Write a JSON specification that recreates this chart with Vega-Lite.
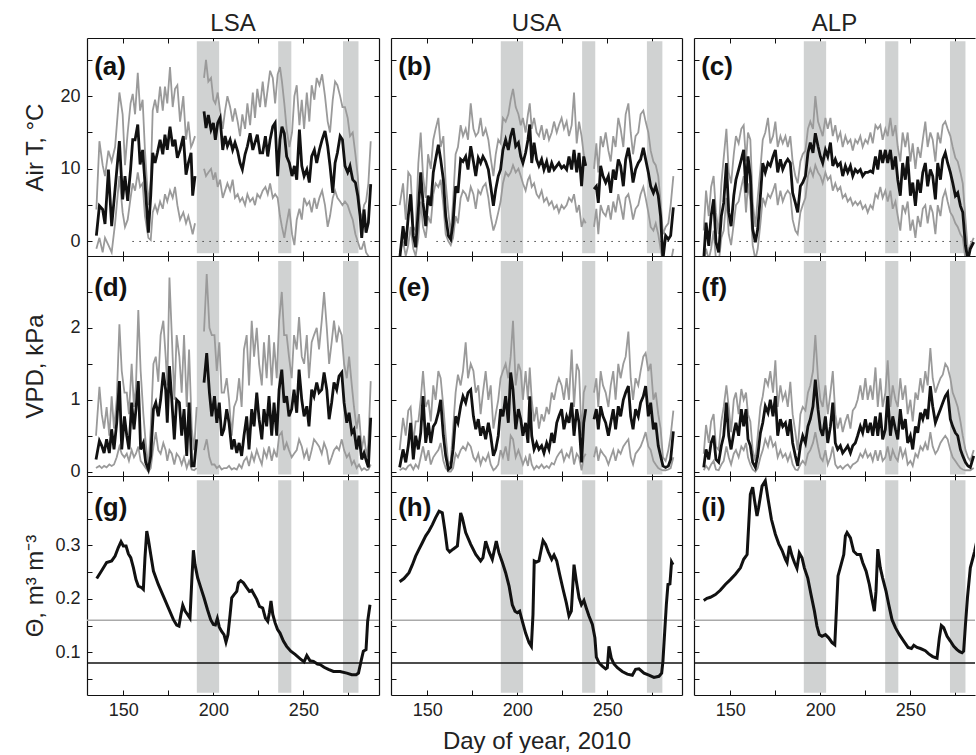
{
"$schema":"https://vega.github.io/schema/vega-lite/v6.json",
"background":"white",
"padding":{"left":23,"top":11,"right":0,"bottom":0},
"autosize":{"type":"pad"},
"bounds":"flush",
"align":"each",
"columns":3,
"spacing":{"row":0,"column":12},
"datasets":{
"bars":[{"s":190.8,"e":203.2},{"s":236,"e":243.3},{"s":272,"e":280.6}],
"Ta":[{"d":135,"m":0.8,"h":4.4,"l":-1},{"d":136.7,"m":4.9,"h":13.8,"l":0.5},{"d":138.5,"m":4.4,"h":10.5,"l":-1.5},{"d":139.8,"m":2.4,"h":9,"l":0.5},{"d":141.7,"m":9.9,"h":12.5,"l":-0.5},{"d":143.5,"m":2.1,"h":11,"l":-1.5},{"d":145.4,"m":7.2,"h":13,"l":2.5},{"d":147.8,"m":13.8,"h":20.5,"l":9},{"d":149.6,"m":5.8,"h":17.5,"l":4},{"d":150.9,"m":9,"h":10.5,"l":2},{"d":152.4,"m":5.6,"h":15,"l":3},{"d":154,"m":9.9,"h":19,"l":6},{"d":155.2,"m":14,"h":20.3,"l":8},{"d":156.5,"m":14,"h":17.5,"l":7},{"d":158,"m":16.1,"h":23.2,"l":9.5},{"d":159.3,"m":10.6,"h":18,"l":7.5},{"d":160.7,"m":12.6,"h":19.5,"l":8},{"d":162,"m":8.1,"h":12.5,"l":3.5},{"d":163.9,"m":1.2,"h":5,"l":0.5},{"d":165.2,"m":6.3,"h":8.5,"l":0.2},{"d":166.3,"m":12.2,"h":18,"l":4},{"d":167.6,"m":10.8,"h":19.5,"l":5},{"d":168.9,"m":12.2,"h":17.7,"l":4},{"d":170.4,"m":14,"h":21.3,"l":5.5},{"d":171.9,"m":12,"h":18,"l":4.5},{"d":173.1,"m":14.7,"h":21.3,"l":6.5},{"d":174.4,"m":12.6,"h":19,"l":5.5},{"d":175.9,"m":15.8,"h":24,"l":7},{"d":177.4,"m":13.1,"h":18.5,"l":6},{"d":178.7,"m":14,"h":21,"l":7.5},{"d":180,"m":11.5,"h":21.5,"l":5},{"d":181.5,"m":12.6,"h":16.5,"l":3},{"d":183.3,"m":14.5,"h":20,"l":4},{"d":184.8,"m":9.2,"h":14,"l":2.5},{"d":186.1,"m":10.8,"h":16.5,"l":3.5},{"d":187.6,"m":12.2,"h":13,"l":2},{"d":188.5,"m":6.3,"h":13.5,"l":1},{"d":189.8,"m":9,"h":14.5,"l":2.5},{"d":192,"m":null,"h":null,"l":null},{"d":194.8,"m":17.9,"h":22.5,"l":10},{"d":195.9,"m":15.6,"h":25,"l":9},{"d":197.2,"m":17.4,"h":22,"l":9.5},{"d":198.7,"m":15.4,"h":22.5,"l":10},{"d":200,"m":16.3,"h":19.5,"l":8.5},{"d":201.1,"m":14,"h":19,"l":9.5},{"d":202.4,"m":16.3,"h":20.5,"l":7.5},{"d":203.7,"m":17,"h":18,"l":8.5},{"d":205.2,"m":12.6,"h":15.5,"l":6},{"d":206.5,"m":14.5,"h":18,"l":7},{"d":207.8,"m":13.1,"h":20,"l":8},{"d":209.3,"m":14,"h":18.5,"l":7},{"d":210.7,"m":12.6,"h":16.5,"l":8.5},{"d":212,"m":13.6,"h":18.3,"l":6},{"d":213.5,"m":12.4,"h":16.5,"l":6.5},{"d":214.8,"m":10.8,"h":14.5,"l":5.5},{"d":216.1,"m":9.9,"h":17.5,"l":6},{"d":217.6,"m":12,"h":15.5,"l":5},{"d":218.9,"m":13.1,"h":19,"l":6.5},{"d":220.4,"m":14.9,"h":16,"l":5.5},{"d":221.9,"m":12.6,"h":20.5,"l":6},{"d":223.1,"m":13.6,"h":17,"l":5},{"d":224.4,"m":14.7,"h":21,"l":6.5},{"d":225.9,"m":12.2,"h":18.5,"l":6},{"d":227.4,"m":12.2,"h":22,"l":7},{"d":228.9,"m":14.5,"h":18.5,"l":7.5},{"d":230.2,"m":11.7,"h":21,"l":6.5},{"d":231.5,"m":14,"h":23.5,"l":8},{"d":233,"m":15.8,"h":22.5,"l":6},{"d":234.3,"m":16.3,"h":19,"l":6.5},{"d":235.7,"m":9,"h":23,"l":6},{"d":237,"m":14,"h":24,"l":3.5},{"d":238.1,"m":15.8,"h":22,"l":2},{"d":239.4,"m":14.9,"h":19,"l":0.5},{"d":240.7,"m":11.7,"h":15.5,"l":2.5},{"d":242.2,"m":10.8,"h":13,"l":4.5},{"d":243.7,"m":9,"h":15,"l":1},{"d":245,"m":10.4,"h":20,"l":-0.5},{"d":246.3,"m":8.5,"h":21.5,"l":3},{"d":247.8,"m":15.4,"h":16,"l":4.5},{"d":249.1,"m":10.4,"h":19.5,"l":3},{"d":250.4,"m":9,"h":15.5,"l":6},{"d":251.9,"m":9.9,"h":20.5,"l":5},{"d":253.3,"m":8.1,"h":16.5,"l":5.5},{"d":254.6,"m":11.7,"h":21.5,"l":4},{"d":256.1,"m":12.6,"h":19.5,"l":6},{"d":257.4,"m":10.8,"h":22.5,"l":4.5},{"d":258.9,"m":12.6,"h":21.5,"l":6},{"d":260.4,"m":14,"h":23,"l":7},{"d":262,"m":15.2,"h":20,"l":5},{"d":263.5,"m":13.1,"h":16.5,"l":2},{"d":264.8,"m":10.4,"h":15,"l":3.5},{"d":266.3,"m":6.7,"h":19.5,"l":6},{"d":267.6,"m":10.8,"h":22,"l":7},{"d":268.9,"m":12.2,"h":21.5,"l":6},{"d":270.4,"m":14.5,"h":20,"l":5.5},{"d":271.7,"m":14,"h":18.5,"l":5},{"d":273.1,"m":10.4,"h":18.5,"l":5.5},{"d":274.6,"m":9.5,"h":17,"l":5},{"d":275.9,"m":10.4,"h":14.5,"l":4},{"d":277.4,"m":8.5,"h":15,"l":3},{"d":278.9,"m":8.1,"h":12,"l":1},{"d":280.2,"m":6.3,"h":9,"l":0},{"d":281.5,"m":3.5,"h":4,"l":-1},{"d":282.4,"m":0.5,"h":3,"l":-1},{"d":283.7,"m":4.4,"h":5,"l":0},{"d":284.8,"m":1.2,"h":5.5,"l":-1.5},{"d":286.1,"m":2.6,"h":8,"l":-2},{"d":287.4,"m":7.9,"h":13.8,"l":-2.5}],
"Tb":[{"d":134.6,"m":-2.5,"h":5,"l":-1.5},{"d":136.5,"m":2.1,"h":8,"l":0},{"d":138,"m":-0.6,"h":3,"l":-2},{"d":139.4,"m":3.5,"h":9.5,"l":-0.5},{"d":140.7,"m":6.5,"h":9,"l":2},{"d":142.2,"m":0.8,"h":2,"l":-1},{"d":143.5,"m":-0.8,"h":1.5,"l":-2},{"d":145,"m":4.4,"h":10.8,"l":0.5},{"d":146.3,"m":9.5,"h":15,"l":5.5},{"d":147.6,"m":5.3,"h":9,"l":2},{"d":149.1,"m":2.1,"h":6,"l":0.5},{"d":150.4,"m":6.3,"h":12,"l":3.5},{"d":151.9,"m":4.9,"h":10,"l":2.5},{"d":153.3,"m":9.5,"h":14,"l":6.5},{"d":154.6,"m":11.3,"h":15.5,"l":8},{"d":156.1,"m":13.3,"h":17,"l":7.5},{"d":157.4,"m":11.3,"h":13,"l":8.5},{"d":158.9,"m":8.5,"h":14.5,"l":5},{"d":160.2,"m":3.5,"h":8,"l":1},{"d":161.7,"m":0.8,"h":4,"l":0},{"d":163,"m":0.3,"h":1,"l":-0.5},{"d":164.3,"m":2.6,"h":5.5,"l":0.5},{"d":165.7,"m":7.6,"h":12,"l":3.5},{"d":167,"m":6.7,"h":13,"l":2.5},{"d":168.5,"m":11.3,"h":16,"l":6},{"d":169.8,"m":11,"h":14.5,"l":7},{"d":171.3,"m":11.7,"h":15.5,"l":6.5},{"d":172.6,"m":9.9,"h":14,"l":5.5},{"d":174.1,"m":13.1,"h":19,"l":7.5},{"d":175.6,"m":11,"h":15.5,"l":6.5},{"d":176.9,"m":9,"h":14.5,"l":4.5},{"d":178.3,"m":11.5,"h":15,"l":7},{"d":179.6,"m":10.8,"h":17,"l":6.5},{"d":180.9,"m":11.7,"h":14.5,"l":7.5},{"d":182.4,"m":11,"h":15.5,"l":8},{"d":183.9,"m":9.9,"h":14,"l":6},{"d":185.2,"m":7.6,"h":11.5,"l":3.5},{"d":186.7,"m":4.9,"h":9,"l":1.5},{"d":188,"m":7.2,"h":12,"l":2.5},{"d":189.4,"m":9,"h":14,"l":4},{"d":190.7,"m":9.9,"h":13.5,"l":5.5},{"d":192,"m":12.6,"h":17,"l":8},{"d":193.5,"m":14,"h":16.5,"l":9.5},{"d":195,"m":12.6,"h":17.5,"l":9},{"d":196.3,"m":14.5,"h":19.5,"l":9.5},{"d":197.6,"m":15.6,"h":21,"l":10.5},{"d":199.1,"m":13.1,"h":18.5,"l":9.5},{"d":200.6,"m":13.6,"h":17.5,"l":10},{"d":201.9,"m":11.7,"h":16,"l":9},{"d":203.1,"m":10.8,"h":17,"l":8},{"d":204.6,"m":12.2,"h":15,"l":7},{"d":205.9,"m":14,"h":17.5,"l":8.5},{"d":206.9,"m":16.1,"h":19,"l":9},{"d":208,"m":10.8,"h":15.5,"l":7.5},{"d":209.3,"m":13.6,"h":17,"l":8},{"d":210.7,"m":11.3,"h":15,"l":6.5},{"d":212,"m":10.4,"h":14.5,"l":6},{"d":213.5,"m":11.3,"h":16,"l":7},{"d":214.8,"m":9.9,"h":14,"l":5.5},{"d":216.3,"m":11,"h":15.5,"l":6},{"d":217.6,"m":9.5,"h":14,"l":5},{"d":219.1,"m":10.8,"h":15,"l":5.5},{"d":220.4,"m":9.9,"h":16.5,"l":4.5},{"d":221.9,"m":10.4,"h":15,"l":5},{"d":223.1,"m":10.8,"h":16,"l":4},{"d":224.6,"m":10.1,"h":17,"l":5},{"d":225.9,"m":10.4,"h":15.5,"l":4.5},{"d":227.4,"m":9.9,"h":16.5,"l":5},{"d":228.7,"m":11.7,"h":14.5,"l":6},{"d":230.2,"m":9.9,"h":16,"l":5.5},{"d":231.5,"m":12.6,"h":20.5,"l":6.5},{"d":233,"m":9.5,"h":13.5,"l":4},{"d":234.3,"m":12.2,"h":16.5,"l":5},{"d":235.7,"m":7.6,"h":14.5,"l":2},{"d":236.9,"m":11.7,"h":12,"l":3},{"d":238,"m":10.4,"h":10.5,"l":2.5},{"d":240,"m":null,"h":null,"l":null},{"d":242.6,"m":7.2,"h":10,"l":2},{"d":243.9,"m":7.6,"h":13.5,"l":4.5},{"d":245,"m":5.3,"h":9.5,"l":1},{"d":246.3,"m":10.4,"h":14.5,"l":5},{"d":247.6,"m":9,"h":13,"l":4},{"d":249.1,"m":8.1,"h":15,"l":3.5},{"d":250.6,"m":9,"h":12.5,"l":5},{"d":251.9,"m":6.7,"h":11,"l":3},{"d":253.3,"m":9.9,"h":14.5,"l":5.5},{"d":254.6,"m":8.5,"h":13,"l":4},{"d":256.1,"m":11.3,"h":17,"l":6.5},{"d":257.4,"m":10.4,"h":15.5,"l":5},{"d":258.9,"m":7.6,"h":13,"l":3},{"d":260.2,"m":11.3,"h":17.5,"l":6},{"d":261.7,"m":12.9,"h":19,"l":6.5},{"d":263,"m":10.8,"h":15,"l":5},{"d":264.3,"m":8.1,"h":12,"l":3},{"d":265.7,"m":9.9,"h":14.5,"l":4.5},{"d":267.2,"m":10.8,"h":15,"l":5},{"d":268.5,"m":11.3,"h":17.5,"l":6.5},{"d":270,"m":12.9,"h":18,"l":7.5},{"d":271.3,"m":11.3,"h":16.5,"l":6},{"d":272.8,"m":9.5,"h":15,"l":4},{"d":274.1,"m":7.6,"h":12.5,"l":2},{"d":275.6,"m":6.7,"h":11,"l":1.5},{"d":276.9,"m":7.6,"h":10.5,"l":2.5},{"d":278.3,"m":6.3,"h":9,"l":1},{"d":279.6,"m":3.5,"h":5.5,"l":-1},{"d":280.9,"m":-2.5,"h":1,"l":-3},{"d":282.4,"m":0.8,"h":2,"l":-3},{"d":283.9,"m":0.3,"h":2.5,"l":-3},{"d":285.2,"m":0.8,"h":5,"l":-3},{"d":286.7,"m":4.7,"h":9,"l":-1}],
"Tc":[{"d":135.2,"m":-2.5,"h":1.5,"l":-3},{"d":136.5,"m":2.6,"h":7,"l":-1},{"d":138,"m":-0.6,"h":3.5,"l":-2.5},{"d":139.3,"m":3.5,"h":7.5,"l":-1},{"d":140.7,"m":5.8,"h":9,"l":1.5},{"d":142,"m":-0.1,"h":4,"l":-2.5},{"d":143.5,"m":-1.5,"h":1,"l":-3},{"d":145,"m":3.5,"h":8,"l":0.5},{"d":146.3,"m":5.3,"h":11.5,"l":1.5},{"d":147.8,"m":10.8,"h":15.5,"l":6},{"d":149.1,"m":4,"h":9.5,"l":1},{"d":150.4,"m":2.1,"h":8,"l":-0.5},{"d":151.9,"m":6.3,"h":12,"l":2.5},{"d":153.1,"m":8.5,"h":14.5,"l":5},{"d":154.6,"m":9.9,"h":13.5,"l":5.5},{"d":156.1,"m":11.3,"h":15.5,"l":7.5},{"d":157.4,"m":12.6,"h":16,"l":9},{"d":158.7,"m":6.7,"h":11,"l":4},{"d":159.8,"m":11.7,"h":15,"l":8},{"d":161.1,"m":9,"h":14,"l":5.5},{"d":162.4,"m":1.7,"h":5.5,"l":-0.5},{"d":163.9,"m":-0.1,"h":2,"l":-2.5},{"d":165.2,"m":1.7,"h":6,"l":-1},{"d":166.7,"m":6.3,"h":10,"l":2.5},{"d":168,"m":10.8,"h":14,"l":6},{"d":169.4,"m":9.5,"h":15,"l":5},{"d":170.9,"m":10.8,"h":17,"l":6.5},{"d":172.2,"m":10.4,"h":13.5,"l":6},{"d":173.7,"m":11.7,"h":14.5,"l":7},{"d":175,"m":12.6,"h":16.5,"l":8},{"d":176.3,"m":9.5,"h":13,"l":5},{"d":177.8,"m":11.3,"h":14.5,"l":7},{"d":179.1,"m":9.9,"h":13.5,"l":5.5},{"d":180.6,"m":10.8,"h":14.5,"l":6.5},{"d":181.9,"m":11.3,"h":13,"l":7},{"d":183.3,"m":10.8,"h":14.5,"l":6.5},{"d":184.6,"m":6.7,"h":11,"l":3},{"d":186.1,"m":5.3,"h":9,"l":1.5},{"d":187.4,"m":4,"h":8,"l":1},{"d":188.9,"m":7.6,"h":11,"l":4},{"d":190.2,"m":8.1,"h":12,"l":5},{"d":191.7,"m":9,"h":12.5,"l":6},{"d":193.1,"m":12.2,"h":15.5,"l":9},{"d":194.4,"m":13.6,"h":16.5,"l":10},{"d":195.9,"m":12.2,"h":15.5,"l":9},{"d":197.2,"m":14.9,"h":20,"l":10.5},{"d":198.7,"m":13.1,"h":16.5,"l":9.5},{"d":200,"m":11.7,"h":15.5,"l":9},{"d":201.3,"m":10.8,"h":14.5,"l":8},{"d":202.8,"m":12.6,"h":17,"l":9.5},{"d":204.1,"m":11.7,"h":15.5,"l":8.5},{"d":205.6,"m":13.6,"h":17,"l":9},{"d":206.9,"m":10.4,"h":14.5,"l":7},{"d":208.3,"m":11.3,"h":16,"l":8},{"d":209.6,"m":10.4,"h":14,"l":7},{"d":211.1,"m":10.8,"h":15,"l":7.5},{"d":212.4,"m":9,"h":13,"l":6},{"d":213.9,"m":10.4,"h":14.5,"l":6.5},{"d":215.2,"m":9.5,"h":13.5,"l":5.5},{"d":216.7,"m":10.4,"h":14,"l":6},{"d":218,"m":9,"h":12.5,"l":5},{"d":219.4,"m":9.9,"h":14,"l":5.5},{"d":220.7,"m":9.5,"h":13.5,"l":5},{"d":222.2,"m":9.9,"h":14.5,"l":5.5},{"d":223.5,"m":9,"h":13,"l":4.5},{"d":225,"m":9.5,"h":14,"l":5},{"d":226.3,"m":9.5,"h":13.5,"l":4},{"d":227.8,"m":9.7,"h":15,"l":5},{"d":229.1,"m":9.5,"h":13.5,"l":4.5},{"d":230.6,"m":11.7,"h":16,"l":6.5},{"d":231.9,"m":9.9,"h":15.5,"l":6},{"d":233.3,"m":12.6,"h":16,"l":7.5},{"d":234.6,"m":10.8,"h":14,"l":6},{"d":236.1,"m":12.6,"h":15.5,"l":7},{"d":237.4,"m":10.8,"h":14.5,"l":5.5},{"d":238.9,"m":12.6,"h":17,"l":7},{"d":240.2,"m":9.9,"h":14.5,"l":4.5},{"d":241.7,"m":11.7,"h":16,"l":5.5},{"d":243,"m":8.5,"h":13,"l":3.5},{"d":244.4,"m":6.3,"h":11,"l":1.5},{"d":245.7,"m":10.8,"h":15,"l":5},{"d":247.2,"m":8.5,"h":13,"l":4},{"d":248.5,"m":11.7,"h":15,"l":5.5},{"d":250,"m":6.3,"h":11,"l":1.5},{"d":251.3,"m":8.1,"h":13.5,"l":3},{"d":252.8,"m":4.9,"h":10,"l":0.5},{"d":254.1,"m":8.5,"h":13,"l":3.5},{"d":255.6,"m":6.7,"h":11.5,"l":2},{"d":256.9,"m":9.5,"h":14,"l":4.5},{"d":258.3,"m":10.8,"h":16.5,"l":5},{"d":259.6,"m":7.6,"h":13,"l":2.5},{"d":261.1,"m":9.9,"h":15,"l":5},{"d":262.4,"m":9,"h":14,"l":4},{"d":263.9,"m":5.8,"h":11,"l":1},{"d":265.2,"m":10.8,"h":15,"l":5},{"d":266.7,"m":8.5,"h":13.5,"l":3.5},{"d":268,"m":11.3,"h":16,"l":6},{"d":269.4,"m":12.2,"h":16.5,"l":7},{"d":270.7,"m":10.8,"h":15.5,"l":5.5},{"d":272.2,"m":9.5,"h":14.5,"l":4},{"d":273.5,"m":8.1,"h":13,"l":3.5},{"d":275,"m":6.3,"h":11.5,"l":2.5},{"d":276.3,"m":6.7,"h":11,"l":2},{"d":277.8,"m":4.9,"h":9.5,"l":1},{"d":279.1,"m":4,"h":8,"l":0.5},{"d":280.6,"m":-0.6,"h":3,"l":-2.5},{"d":282,"m":-2.5,"h":-1.5,"l":-3},{"d":283.3,"m":-1,"h":-0.5,"l":-3},{"d":285.2,"m":-0.1,"h":0.5,"l":-2.5}],
"Va":[{"d":134.8,"m":0.17,"h":0.5,"l":0.05},{"d":136.7,"m":0.43,"h":1.18,"l":0.08},{"d":138,"m":0.36,"h":0.8,"l":0.05},{"d":139.3,"m":0.26,"h":0.6,"l":0.08},{"d":140.7,"m":0.45,"h":0.9,"l":0.06},{"d":142.2,"m":0.26,"h":0.5,"l":0.1},{"d":143.5,"m":0.59,"h":1.05,"l":0.08},{"d":144.8,"m":0.31,"h":0.6,"l":0.1},{"d":146.3,"m":0.68,"h":1,"l":0.2},{"d":147.8,"m":1.26,"h":2.05,"l":0.35},{"d":149.1,"m":0.31,"h":1.4,"l":0.25},{"d":150.6,"m":0.77,"h":1.1,"l":0.2},{"d":151.9,"m":0.5,"h":1.1,"l":0.25},{"d":153.1,"m":0.31,"h":0.8,"l":0.15},{"d":154.6,"m":0.96,"h":1.5,"l":0.3},{"d":155.9,"m":0.59,"h":0.9,"l":0.2},{"d":157,"m":0.87,"h":1.2,"l":0.25},{"d":158.3,"m":1.26,"h":2.25,"l":0.35},{"d":159.6,"m":0.31,"h":1.4,"l":0.15},{"d":161.1,"m":0.4,"h":0.8,"l":0.1},{"d":162.4,"m":0.13,"h":0.4,"l":0.05},{"d":163.9,"m":0.03,"h":0.05,"l":0},{"d":165.2,"m":0.22,"h":0.6,"l":0.05},{"d":166.7,"m":0.87,"h":1.5,"l":0.35},{"d":168,"m":0.96,"h":1.6,"l":0.55},{"d":169.4,"m":0.77,"h":1.25,"l":0.3},{"d":170.7,"m":1,"h":1.9,"l":0.25},{"d":172.2,"m":1.38,"h":2.1,"l":0.4},{"d":173.5,"m":1.14,"h":1.6,"l":0.3},{"d":174.4,"m":0.68,"h":1.2,"l":0.15},{"d":175.6,"m":1.47,"h":2.7,"l":0.3},{"d":176.9,"m":1,"h":1.9,"l":0.25},{"d":178.3,"m":0.45,"h":1,"l":0.1},{"d":179.6,"m":1,"h":1.9,"l":0.25},{"d":181.1,"m":0.96,"h":1.6,"l":0.2},{"d":182.4,"m":0.5,"h":1.1,"l":0.1},{"d":183.7,"m":0.87,"h":1.9,"l":0.2},{"d":185.2,"m":0.22,"h":0.9,"l":0.05},{"d":186.5,"m":0.96,"h":1.7,"l":0.15},{"d":188,"m":0.08,"h":0.6,"l":0.03},{"d":189.3,"m":0.08,"h":0.3,"l":0.02},{"d":190.7,"m":0.45,"h":0.9,"l":0.05},{"d":192,"m":null,"h":null,"l":null},{"d":194.8,"m":1.24,"h":1.95,"l":0.3},{"d":196.3,"m":1.65,"h":2.75,"l":0.45},{"d":197.8,"m":1.1,"h":2,"l":0.2},{"d":199.1,"m":0.77,"h":1.9,"l":0.1},{"d":200.6,"m":1.05,"h":1.9,"l":0.1},{"d":201.9,"m":0.68,"h":1.4,"l":0.05},{"d":203.3,"m":0.96,"h":1.8,"l":0.08},{"d":204.6,"m":0.5,"h":1.1,"l":0.03},{"d":205.9,"m":0.59,"h":1.1,"l":0.05},{"d":207.4,"m":0.87,"h":1.3,"l":0.05},{"d":208.7,"m":0.68,"h":1,"l":0.08},{"d":210.2,"m":0.31,"h":0.5,"l":0.03},{"d":211.5,"m":0.45,"h":0.9,"l":0.05},{"d":213,"m":0.26,"h":1,"l":0.03},{"d":214.3,"m":0.4,"h":1.3,"l":0.1},{"d":215.7,"m":0.22,"h":0.9,"l":0.05},{"d":217,"m":0.5,"h":1.7,"l":0.15},{"d":218.5,"m":0.77,"h":1.9,"l":0.2},{"d":219.8,"m":0.31,"h":1.2,"l":0.08},{"d":221.3,"m":0.87,"h":2.1,"l":0.25},{"d":222.6,"m":0.63,"h":1.6,"l":0.15},{"d":224.1,"m":1.1,"h":2,"l":0.3},{"d":225.4,"m":0.73,"h":1.5,"l":0.2},{"d":226.9,"m":0.45,"h":1.2,"l":0.1},{"d":228.1,"m":0.87,"h":1.8,"l":0.3},{"d":229.6,"m":0.63,"h":1.3,"l":0.2},{"d":230.9,"m":1.05,"h":1.9,"l":0.35},{"d":232.4,"m":0.5,"h":1.2,"l":0.15},{"d":233.7,"m":0.96,"h":1.8,"l":0.3},{"d":235.2,"m":0.5,"h":1.3,"l":0.2},{"d":236.5,"m":1.14,"h":2.1,"l":0.5},{"d":238,"m":1.42,"h":2.5,"l":0.55},{"d":239.3,"m":0.96,"h":1.9,"l":0.3},{"d":240.7,"m":1.05,"h":1.9,"l":0.4},{"d":242,"m":0.77,"h":1.6,"l":0.3},{"d":243.5,"m":0.87,"h":1.3,"l":0.2},{"d":244.8,"m":1.14,"h":1.9,"l":0.25},{"d":246.3,"m":0.82,"h":1.7,"l":0.3},{"d":247.6,"m":1.42,"h":2.15,"l":0.45},{"d":249.1,"m":1,"h":1.6,"l":0.35},{"d":250.4,"m":0.77,"h":1.5,"l":0.2},{"d":251.9,"m":0.91,"h":1.9,"l":0.3},{"d":253.1,"m":0.63,"h":1.3,"l":0.15},{"d":254.6,"m":1.14,"h":1.8,"l":0.3},{"d":255.9,"m":1.05,"h":1.9,"l":0.45},{"d":257.4,"m":1.24,"h":2,"l":0.4},{"d":258.7,"m":1.1,"h":1.7,"l":0.35},{"d":260.2,"m":1.14,"h":2.1,"l":0.25},{"d":261.5,"m":1.38,"h":2.5,"l":0.4},{"d":263,"m":1.14,"h":2,"l":0.3},{"d":264.3,"m":0.73,"h":1.5,"l":0.1},{"d":265.7,"m":0.96,"h":1.8,"l":0.2},{"d":267,"m":1.24,"h":2.1,"l":0.3},{"d":268.5,"m":1.14,"h":1.8,"l":0.35},{"d":269.8,"m":1.33,"h":2,"l":0.3},{"d":271.3,"m":1.38,"h":1.9,"l":0.45},{"d":272.6,"m":0.96,"h":1.5,"l":0.3},{"d":274.1,"m":0.68,"h":1.3,"l":0.2},{"d":275.4,"m":0.82,"h":1.6,"l":0.25},{"d":276.9,"m":0.54,"h":1.2,"l":0.1},{"d":278.1,"m":0.59,"h":0.9,"l":0.15},{"d":279.6,"m":0.31,"h":0.6,"l":0.05},{"d":280.9,"m":0.5,"h":0.8,"l":0.1},{"d":282.4,"m":0.17,"h":0.3,"l":0.02},{"d":283.7,"m":0.26,"h":0.5,"l":0.05},{"d":285.2,"m":0.13,"h":0.2,"l":0.02},{"d":286.1,"m":0.06,"h":0.4,"l":0.03},{"d":287.4,"m":0.75,"h":1.26,"l":0.1}],
"Vb":[{"d":134.6,"m":0.06,"h":0.3,"l":0.02},{"d":136.5,"m":0.31,"h":0.75,"l":0.05},{"d":138,"m":0.13,"h":0.5,"l":0.03},{"d":139.4,"m":0.36,"h":0.85,"l":0.08},{"d":140.7,"m":0.68,"h":0.9,"l":0.1},{"d":142.2,"m":0.17,"h":0.4,"l":0.03},{"d":143.5,"m":0.5,"h":0.7,"l":0.1},{"d":145,"m":0.31,"h":0.7,"l":0.05},{"d":146.3,"m":0.54,"h":1,"l":0.2},{"d":147.6,"m":1.05,"h":1.4,"l":0.35},{"d":149.1,"m":0.4,"h":0.9,"l":0.15},{"d":150.6,"m":0.68,"h":1,"l":0.3},{"d":151.9,"m":0.4,"h":0.7,"l":0.1},{"d":153.3,"m":0.63,"h":1.2,"l":0.2},{"d":154.6,"m":0.68,"h":1,"l":0.25},{"d":156.1,"m":0.82,"h":1.4,"l":0.3},{"d":157.4,"m":1,"h":1.3,"l":0.4},{"d":158.9,"m":0.5,"h":0.9,"l":0.15},{"d":160.2,"m":0.22,"h":0.5,"l":0.05},{"d":161.7,"m":0.03,"h":0.1,"l":0},{"d":163,"m":0.06,"h":0.15,"l":0},{"d":164.3,"m":0.31,"h":0.6,"l":0.05},{"d":165.7,"m":0.77,"h":1.1,"l":0.25},{"d":167,"m":0.68,"h":1.35,"l":0.2},{"d":168.5,"m":0.91,"h":1.2,"l":0.3},{"d":169.8,"m":1.05,"h":1.4,"l":0.35},{"d":171.3,"m":0.96,"h":1.8,"l":0.3},{"d":172.6,"m":1.1,"h":1.3,"l":0.4},{"d":174.1,"m":1.14,"h":1.5,"l":0.35},{"d":175.6,"m":0.77,"h":1.4,"l":0.2},{"d":176.9,"m":0.59,"h":1.1,"l":0.15},{"d":178.3,"m":0.73,"h":1.2,"l":0.25},{"d":179.6,"m":0.5,"h":0.8,"l":0.1},{"d":180.9,"m":0.63,"h":1.1,"l":0.2},{"d":182.4,"m":0.45,"h":1.4,"l":0.15},{"d":183.9,"m":0.68,"h":1,"l":0.25},{"d":185.2,"m":0.5,"h":1.2,"l":0.1},{"d":186.7,"m":0.22,"h":0.6,"l":0.02},{"d":188,"m":0.31,"h":0.8,"l":0.05},{"d":189.4,"m":0.5,"h":1,"l":0.1},{"d":190.7,"m":0.87,"h":1.3,"l":0.3},{"d":192,"m":0.77,"h":1.4,"l":0.2},{"d":193.5,"m":1.05,"h":1.5,"l":0.35},{"d":195,"m":0.68,"h":1.3,"l":0.15},{"d":196.3,"m":1.38,"h":1.6,"l":0.5},{"d":197.6,"m":1.14,"h":2.1,"l":0.45},{"d":199.1,"m":0.59,"h":1.2,"l":0.2},{"d":200.6,"m":0.87,"h":1.5,"l":0.3},{"d":201.9,"m":0.73,"h":1.4,"l":0.2},{"d":203.1,"m":0.5,"h":1,"l":0.1},{"d":204.6,"m":0.68,"h":1.4,"l":0.2},{"d":205.9,"m":0.4,"h":1,"l":0.08},{"d":206.9,"m":1.05,"h":1.45,"l":0.25},{"d":208,"m":0.5,"h":1,"l":0.1},{"d":209.3,"m":0.31,"h":0.7,"l":0.03},{"d":210.7,"m":0.4,"h":0.9,"l":0.08},{"d":212,"m":0.31,"h":0.6,"l":0.05},{"d":213.5,"m":0.36,"h":0.8,"l":0.1},{"d":214.8,"m":0.26,"h":0.7,"l":0.05},{"d":216.3,"m":0.4,"h":0.9,"l":0.08},{"d":217.6,"m":0.31,"h":0.8,"l":0.05},{"d":219.1,"m":0.54,"h":1.1,"l":0.12},{"d":220.4,"m":0.4,"h":1,"l":0.1},{"d":221.9,"m":0.68,"h":1.2,"l":0.2},{"d":223.1,"m":0.77,"h":1.3,"l":0.25},{"d":224.6,"m":0.87,"h":1.2,"l":0.3},{"d":225.9,"m":0.59,"h":1,"l":0.15},{"d":227.4,"m":0.77,"h":1.3,"l":0.25},{"d":228.7,"m":0.68,"h":1,"l":0.2},{"d":230.2,"m":0.96,"h":1.7,"l":0.35},{"d":231.5,"m":0.5,"h":0.9,"l":0.1},{"d":233,"m":0.87,"h":1.5,"l":0.25},{"d":234.3,"m":0.68,"h":1.4,"l":0.2},{"d":235.7,"m":0.13,"h":0.5,"l":0.02},{"d":236.9,"m":0.68,"h":1.1,"l":0.2},{"d":238,"m":0.87,"h":1.2,"l":0.25},{"d":240,"m":null,"h":null,"l":null},{"d":242.6,"m":0.73,"h":1.1,"l":0.2},{"d":243.9,"m":0.87,"h":1.3,"l":0.35},{"d":245,"m":0.59,"h":0.9,"l":0.15},{"d":246.3,"m":0.91,"h":1.4,"l":0.3},{"d":247.6,"m":0.77,"h":1.2,"l":0.25},{"d":249.1,"m":0.68,"h":1.1,"l":0.2},{"d":250.6,"m":0.5,"h":0.9,"l":0.1},{"d":251.9,"m":0.68,"h":1.2,"l":0.2},{"d":253.3,"m":0.87,"h":1.4,"l":0.3},{"d":254.6,"m":0.59,"h":1,"l":0.15},{"d":256.1,"m":0.91,"h":1.5,"l":0.3},{"d":257.4,"m":0.77,"h":1.3,"l":0.25},{"d":258.9,"m":1,"h":1.5,"l":0.35},{"d":260.2,"m":1.1,"h":1.6,"l":0.4},{"d":261.7,"m":1.19,"h":1.95,"l":0.45},{"d":263,"m":0.77,"h":1.3,"l":0.2},{"d":264.3,"m":0.59,"h":1,"l":0.1},{"d":265.7,"m":0.87,"h":1.3,"l":0.25},{"d":267.2,"m":0.77,"h":1.2,"l":0.3},{"d":268.5,"m":0.96,"h":1.4,"l":0.35},{"d":270,"m":1.05,"h":1.6,"l":0.45},{"d":271.3,"m":1.19,"h":1.65,"l":0.55},{"d":272.8,"m":0.77,"h":1.4,"l":0.35},{"d":274.1,"m":0.96,"h":1.5,"l":0.3},{"d":275.6,"m":0.59,"h":1,"l":0.15},{"d":276.9,"m":0.68,"h":1.1,"l":0.1},{"d":278.3,"m":0.36,"h":0.8,"l":0.05},{"d":279.6,"m":0.22,"h":0.6,"l":0.03},{"d":280.9,"m":0.08,"h":0.2,"l":0.02},{"d":282.4,"m":0.06,"h":0.15,"l":0.02},{"d":283.9,"m":0.08,"h":0.3,"l":0.03},{"d":285.2,"m":0.17,"h":0.5,"l":0.05},{"d":286.7,"m":0.56,"h":0.85,"l":0.2}],
"Vc":[{"d":135.2,"m":0.06,"h":0.25,"l":0.02},{"d":136.5,"m":0.31,"h":0.65,"l":0.08},{"d":138,"m":0.17,"h":0.4,"l":0.03},{"d":139.3,"m":0.4,"h":0.7,"l":0.1},{"d":140.7,"m":0.5,"h":0.8,"l":0.15},{"d":142,"m":0.17,"h":0.35,"l":0.03},{"d":143.5,"m":0.13,"h":0.3,"l":0.02},{"d":145,"m":0.36,"h":0.7,"l":0.1},{"d":146.3,"m":0.5,"h":0.9,"l":0.15},{"d":147.8,"m":0.96,"h":1.2,"l":0.35},{"d":149.1,"m":0.5,"h":0.9,"l":0.2},{"d":150.4,"m":0.31,"h":0.55,"l":0.1},{"d":151.9,"m":0.54,"h":1,"l":0.25},{"d":153.1,"m":0.68,"h":1.1,"l":0.3},{"d":154.6,"m":0.5,"h":0.8,"l":0.2},{"d":156.1,"m":0.87,"h":1.15,"l":0.35},{"d":157.4,"m":0.63,"h":1,"l":0.3},{"d":158.7,"m":0.87,"h":1.1,"l":0.4},{"d":159.8,"m":0.45,"h":0.8,"l":0.2},{"d":161.1,"m":0.36,"h":0.7,"l":0.1},{"d":162.4,"m":0.13,"h":0.3,"l":0.03},{"d":163.9,"m":0.06,"h":0.15,"l":0},{"d":165.2,"m":0.22,"h":0.5,"l":0.05},{"d":166.7,"m":0.54,"h":0.9,"l":0.2},{"d":168,"m":0.68,"h":1.05,"l":0.3},{"d":169.4,"m":0.91,"h":1.3,"l":0.45},{"d":170.9,"m":0.82,"h":1.2,"l":0.35},{"d":172.2,"m":1,"h":1.4,"l":0.5},{"d":173.7,"m":0.77,"h":1.1,"l":0.35},{"d":175,"m":1.05,"h":1.55,"l":0.4},{"d":176.3,"m":0.5,"h":0.9,"l":0.2},{"d":177.8,"m":0.73,"h":1.2,"l":0.3},{"d":179.1,"m":0.63,"h":1,"l":0.2},{"d":180.6,"m":0.68,"h":1.1,"l":0.25},{"d":181.9,"m":0.5,"h":0.9,"l":0.15},{"d":183.3,"m":0.73,"h":1.25,"l":0.25},{"d":184.6,"m":0.4,"h":0.8,"l":0.1},{"d":186.1,"m":0.22,"h":0.55,"l":0.03},{"d":187.4,"m":0.08,"h":0.3,"l":0.02},{"d":188.9,"m":0.36,"h":0.8,"l":0.1},{"d":190.2,"m":0.5,"h":0.9,"l":0.15},{"d":191.7,"m":0.4,"h":0.85,"l":0.1},{"d":193.1,"m":0.63,"h":1.1,"l":0.25},{"d":194.4,"m":0.73,"h":1.2,"l":0.3},{"d":195.9,"m":0.91,"h":1.4,"l":0.4},{"d":197.2,"m":1.28,"h":1.9,"l":0.55},{"d":198.7,"m":0.87,"h":1.3,"l":0.35},{"d":200,"m":0.59,"h":1,"l":0.2},{"d":201.3,"m":0.5,"h":0.9,"l":0.15},{"d":202.8,"m":0.77,"h":1.2,"l":0.3},{"d":204.1,"m":0.4,"h":0.8,"l":0.1},{"d":205.6,"m":0.63,"h":1.1,"l":0.2},{"d":206.9,"m":0.96,"h":1.4,"l":0.35},{"d":208.3,"m":0.4,"h":0.8,"l":0.1},{"d":209.6,"m":0.31,"h":0.6,"l":0.05},{"d":211.1,"m":0.36,"h":0.75,"l":0.08},{"d":212.4,"m":0.26,"h":0.55,"l":0.04},{"d":213.9,"m":0.31,"h":0.7,"l":0.08},{"d":215.2,"m":0.36,"h":0.8,"l":0.1},{"d":216.7,"m":0.26,"h":0.6,"l":0.05},{"d":218,"m":0.36,"h":0.85,"l":0.1},{"d":219.4,"m":0.4,"h":0.9,"l":0.12},{"d":220.7,"m":0.5,"h":1,"l":0.15},{"d":222.2,"m":0.63,"h":1.2,"l":0.25},{"d":223.5,"m":0.54,"h":1,"l":0.2},{"d":225,"m":0.73,"h":1.3,"l":0.3},{"d":226.3,"m":0.54,"h":1,"l":0.2},{"d":227.8,"m":0.68,"h":1.2,"l":0.25},{"d":229.1,"m":0.5,"h":1,"l":0.15},{"d":230.6,"m":0.77,"h":1.45,"l":0.3},{"d":231.9,"m":0.5,"h":0.9,"l":0.15},{"d":233.3,"m":0.82,"h":1.3,"l":0.3},{"d":234.6,"m":0.45,"h":0.9,"l":0.15},{"d":236.1,"m":0.59,"h":1.1,"l":0.2},{"d":237.4,"m":1.05,"h":1.55,"l":0.35},{"d":238.9,"m":0.5,"h":0.9,"l":0.15},{"d":240.2,"m":0.77,"h":1.2,"l":0.3},{"d":241.7,"m":0.59,"h":1,"l":0.2},{"d":243,"m":0.45,"h":0.9,"l":0.15},{"d":244.4,"m":0.87,"h":1.3,"l":0.35},{"d":245.7,"m":0.59,"h":1,"l":0.2},{"d":247.2,"m":0.73,"h":1.2,"l":0.3},{"d":248.5,"m":0.4,"h":0.8,"l":0.1},{"d":250,"m":0.5,"h":1,"l":0.15},{"d":251.3,"m":0.31,"h":0.7,"l":0.08},{"d":252.8,"m":0.63,"h":1.1,"l":0.25},{"d":254.1,"m":0.54,"h":1,"l":0.2},{"d":255.6,"m":0.82,"h":1.3,"l":0.35},{"d":256.9,"m":0.73,"h":1.1,"l":0.3},{"d":258.3,"m":0.87,"h":1.4,"l":0.4},{"d":259.6,"m":0.73,"h":1.2,"l":0.3},{"d":261.1,"m":1.19,"h":1.72,"l":0.55},{"d":262.4,"m":0.91,"h":1.3,"l":0.35},{"d":263.9,"m":0.68,"h":1.1,"l":0.25},{"d":265.2,"m":0.77,"h":1.2,"l":0.3},{"d":266.7,"m":0.87,"h":1.3,"l":0.4},{"d":268,"m":0.96,"h":1.35,"l":0.45},{"d":269.4,"m":1.05,"h":1.5,"l":0.5},{"d":270.7,"m":1.1,"h":1.45,"l":0.45},{"d":272.2,"m":0.73,"h":1.3,"l":0.3},{"d":273.5,"m":0.63,"h":1.1,"l":0.2},{"d":275,"m":0.54,"h":1,"l":0.15},{"d":276.3,"m":0.5,"h":0.9,"l":0.1},{"d":277.8,"m":0.31,"h":0.7,"l":0.05},{"d":279.1,"m":0.22,"h":0.5,"l":0.03},{"d":280.6,"m":0.13,"h":0.3,"l":0.02},{"d":282,"m":0.08,"h":0.2,"l":0.02},{"d":283.3,"m":0.06,"h":0.15,"l":0.02},{"d":285.2,"m":0.22,"h":0.3,"l":0.05}],
"Sa":[{"d":135.2,"v":0.238},{"d":138,"v":0.253},{"d":140.7,"v":0.268},{"d":143.5,"v":0.271},{"d":145.4,"v":0.28},{"d":147.2,"v":0.296},{"d":148.7,"v":0.307},{"d":150,"v":0.299},{"d":151.5,"v":0.299},{"d":152.8,"v":0.284},{"d":154.1,"v":0.277},{"d":155.6,"v":0.258},{"d":157,"v":0.236},{"d":158.3,"v":0.224},{"d":160.2,"v":0.221},{"d":161.1,"v":0.218},{"d":162,"v":0.277},{"d":163,"v":0.327},{"d":163.9,"v":0.311},{"d":165.2,"v":0.283},{"d":166.7,"v":0.252},{"d":169.4,"v":0.227},{"d":172.2,"v":0.205},{"d":175,"v":0.183},{"d":177.8,"v":0.161},{"d":179.6,"v":0.151},{"d":180.9,"v":0.149},{"d":182,"v":0.171},{"d":183,"v":0.188},{"d":184.3,"v":0.177},{"d":185.6,"v":0.171},{"d":187,"v":0.164},{"d":188,"v":0.233},{"d":188.9,"v":0.291},{"d":189.8,"v":0.264},{"d":191.3,"v":0.239},{"d":193,"v":0.221},{"d":194.8,"v":0.202},{"d":196.7,"v":0.18},{"d":198.5,"v":0.161},{"d":200,"v":0.152},{"d":201.1,"v":0.151},{"d":202.2,"v":0.163},{"d":203.3,"v":0.147},{"d":204.6,"v":0.139},{"d":205.9,"v":0.133},{"d":207,"v":0.119},{"d":208.1,"v":0.133},{"d":209.3,"v":0.171},{"d":210.2,"v":0.202},{"d":211.5,"v":0.208},{"d":213,"v":0.214},{"d":213.9,"v":0.23},{"d":215.2,"v":0.234},{"d":216.7,"v":0.23},{"d":218.5,"v":0.221},{"d":220,"v":0.214},{"d":221.3,"v":0.216},{"d":222.6,"v":0.208},{"d":224.1,"v":0.199},{"d":225.6,"v":0.186},{"d":227.4,"v":0.183},{"d":228.9,"v":0.164},{"d":230.2,"v":0.158},{"d":231.1,"v":0.174},{"d":232,"v":0.196},{"d":233,"v":0.171},{"d":234.3,"v":0.155},{"d":235.6,"v":0.143},{"d":237,"v":0.136},{"d":238.9,"v":0.121},{"d":240.7,"v":0.111},{"d":243,"v":0.102},{"d":245.4,"v":0.096},{"d":248.1,"v":0.088},{"d":250.4,"v":0.082},{"d":251.9,"v":0.094},{"d":253.7,"v":0.084},{"d":255.6,"v":0.083},{"d":257.8,"v":0.078},{"d":259.3,"v":0.077},{"d":261.5,"v":0.072},{"d":263.9,"v":0.068},{"d":266.7,"v":0.064},{"d":270.4,"v":0.064},{"d":274.1,"v":0.061},{"d":276.9,"v":0.058},{"d":279.3,"v":0.058},{"d":280.6,"v":0.061},{"d":282,"v":0.083},{"d":283.3,"v":0.102},{"d":284.8,"v":0.105},{"d":285.7,"v":0.158},{"d":287,"v":0.189}],
"Sb":[{"d":134.6,"v":0.232},{"d":137,"v":0.238},{"d":139.8,"v":0.249},{"d":141.7,"v":0.264},{"d":143.5,"v":0.28},{"d":145.4,"v":0.293},{"d":147.2,"v":0.305},{"d":149.1,"v":0.318},{"d":150.9,"v":0.327},{"d":152.8,"v":0.339},{"d":154.6,"v":0.352},{"d":156.5,"v":0.364},{"d":158.3,"v":0.361},{"d":159.8,"v":0.327},{"d":161.1,"v":0.293},{"d":162.4,"v":0.288},{"d":164.3,"v":0.293},{"d":166.7,"v":0.299},{"d":168.5,"v":0.361},{"d":169.4,"v":0.352},{"d":171.3,"v":0.324},{"d":174.1,"v":0.302},{"d":176.9,"v":0.283},{"d":179.6,"v":0.271},{"d":180.9,"v":0.277},{"d":182.4,"v":0.308},{"d":184.3,"v":0.288},{"d":186.1,"v":0.274},{"d":188.3,"v":0.308},{"d":189.8,"v":0.286},{"d":191.7,"v":0.268},{"d":193.5,"v":0.249},{"d":195.4,"v":0.224},{"d":197.2,"v":0.189},{"d":198.7,"v":0.177},{"d":200,"v":0.174},{"d":201.3,"v":0.177},{"d":202.8,"v":0.158},{"d":204.6,"v":0.136},{"d":206.5,"v":0.118},{"d":207.8,"v":0.111},{"d":208.7,"v":0.171},{"d":209.4,"v":0.271},{"d":210.6,"v":0.269},{"d":212,"v":0.271},{"d":213.5,"v":0.296},{"d":214.3,"v":0.309},{"d":215.7,"v":0.302},{"d":217.2,"v":0.288},{"d":219.1,"v":0.274},{"d":220.4,"v":0.282},{"d":221.9,"v":0.271},{"d":223.5,"v":0.246},{"d":225.4,"v":0.218},{"d":227.2,"v":0.193},{"d":228.7,"v":0.168},{"d":230,"v":0.177},{"d":231.5,"v":0.264},{"d":232.8,"v":0.233},{"d":234.3,"v":0.202},{"d":235.6,"v":0.189},{"d":237,"v":0.197},{"d":238.3,"v":0.183},{"d":239.8,"v":0.168},{"d":241.7,"v":0.152},{"d":243.1,"v":0.127},{"d":243.9,"v":0.091},{"d":245.4,"v":0.08},{"d":247.2,"v":0.074},{"d":249.1,"v":0.069},{"d":250,"v":0.071},{"d":250.9,"v":0.111},{"d":252.2,"v":0.089},{"d":253.7,"v":0.078},{"d":255.6,"v":0.071},{"d":258.3,"v":0.064},{"d":261.1,"v":0.059},{"d":263.9,"v":0.057},{"d":265.7,"v":0.068},{"d":267.6,"v":0.069},{"d":270.4,"v":0.061},{"d":273.1,"v":0.057},{"d":275.9,"v":0.053},{"d":278.7,"v":0.055},{"d":280.2,"v":0.061},{"d":280.9,"v":0.083},{"d":281.9,"v":0.139},{"d":282.8,"v":0.189},{"d":283.7,"v":0.227},{"d":284.8,"v":0.228},{"d":285.7,"v":0.269},{"d":286.5,"v":0.264}],
"Sc":[{"d":135.2,"v":0.197},{"d":137,"v":0.201},{"d":138.9,"v":0.203},{"d":141.7,"v":0.208},{"d":144.4,"v":0.216},{"d":147.2,"v":0.227},{"d":150,"v":0.236},{"d":152.8,"v":0.246},{"d":155.6,"v":0.258},{"d":157.4,"v":0.274},{"d":159.3,"v":0.283},{"d":160.2,"v":0.339},{"d":161.1,"v":0.396},{"d":162.4,"v":0.409},{"d":163.5,"v":0.383},{"d":164.8,"v":0.355},{"d":165.7,"v":0.371},{"d":167.6,"v":0.411},{"d":169.4,"v":0.421},{"d":170.9,"v":0.388},{"d":172.8,"v":0.349},{"d":175,"v":0.321},{"d":176.9,"v":0.303},{"d":178.7,"v":0.291},{"d":180.6,"v":0.274},{"d":181.5,"v":0.268},{"d":182.8,"v":0.299},{"d":184.3,"v":0.28},{"d":185.6,"v":0.268},{"d":187,"v":0.257},{"d":188.3,"v":0.286},{"d":189.8,"v":0.277},{"d":191.1,"v":0.258},{"d":193,"v":0.239},{"d":194.8,"v":0.208},{"d":196.7,"v":0.177},{"d":198.1,"v":0.149},{"d":199.4,"v":0.133},{"d":200.9,"v":0.13},{"d":202.8,"v":0.133},{"d":204.6,"v":0.127},{"d":206.5,"v":0.118},{"d":208,"v":0.114},{"d":208.7,"v":0.164},{"d":209.8,"v":0.243},{"d":211.5,"v":0.264},{"d":213,"v":0.283},{"d":213.9,"v":0.318},{"d":214.8,"v":0.324},{"d":216.7,"v":0.314},{"d":218.5,"v":0.289},{"d":220.4,"v":0.283},{"d":222.2,"v":0.283},{"d":223.5,"v":0.268},{"d":225.4,"v":0.252},{"d":227.2,"v":0.227},{"d":228.7,"v":0.199},{"d":230,"v":0.177},{"d":230.9,"v":0.214},{"d":231.9,"v":0.293},{"d":233.3,"v":0.258},{"d":234.6,"v":0.239},{"d":236.5,"v":0.214},{"d":238,"v":0.189},{"d":239.8,"v":0.161},{"d":241.7,"v":0.146},{"d":243.9,"v":0.133},{"d":246.3,"v":0.121},{"d":248.7,"v":0.109},{"d":250.6,"v":0.107},{"d":251.9,"v":0.113},{"d":253.7,"v":0.109},{"d":255.6,"v":0.107},{"d":258.3,"v":0.103},{"d":260.2,"v":0.097},{"d":262.4,"v":0.092},{"d":264.8,"v":0.089},{"d":266.1,"v":0.127},{"d":267.2,"v":0.15},{"d":268.5,"v":0.146},{"d":270.4,"v":0.13},{"d":272.2,"v":0.121},{"d":274.1,"v":0.111},{"d":275.9,"v":0.105},{"d":277.4,"v":0.101},{"d":278.7,"v":0.099},{"d":279.6,"v":0.102},{"d":280.6,"v":0.152},{"d":281.7,"v":0.202},{"d":283.3,"v":0.258},{"d":285.7,"v":0.289},{"d":287,"v":0.31}]
},
"concat":[
{"width":292,"height":218,"title":{"text":"LSA"},
 "layer":[
  {"data":{"name":"bars"},"mark":{"type":"rect","color":"#d0d2d2"},"encoding":{"x":{"field":"s","type":"quantitative","scale":{"domain":[129.8,292],"nice":false,"zero":false},"axis":{"orient":"bottom","values":[150,175,200,225,250,275],"labels":false,"title":null}},"x2":{"field":"e"},"y":{"datum":27.55,"type":"quantitative","scale":{"domain":[-2,28],"nice":false,"zero":false},"axis":{"orient":"left","values":[0,5,10,15,20,25],"labelExpr":"datum.value % 10 === 0 ? datum.label : ''","title":"Air T, °C","titleX":-45,"titleY":109,"titleAngle":270,"titleBaseline":"alphabetic","titleAlign":"center"}},"y2":{"datum":-1.63}}},
  {"data":{"values":[{}]},"mark":{"type":"rule","color":"#444","strokeDash":[1.5,5.5],"strokeWidth":1,"clip":true},"encoding":{"x":{"datum":155,"type":"quantitative","axis":null},"x2":{"datum":292},"y":{"datum":0,"type":"quantitative","axis":null}}},
  {"data":{"name":"Ta"},"mark":{"type":"line","color":"#9a9a9a","strokeWidth":1.8,"clip":true,"invalid":"break-paths-show-domains"},"encoding":{"x":{"field":"d","type":"quantitative","axis":null},"y":{"field":"l","type":"quantitative","axis":null}}},
  {"data":{"name":"Ta"},"mark":{"type":"line","color":"#9a9a9a","strokeWidth":1.8,"clip":true,"invalid":"break-paths-show-domains"},"encoding":{"x":{"field":"d","type":"quantitative","axis":{"orient":"top","values":[150,175,200,225,250,275],"labels":false,"title":null}},"y":{"field":"h","type":"quantitative","axis":{"orient":"right","values":[0,5,10,15,20,25],"labels":false,"title":null}}}},
  {"data":{"name":"Ta"},"mark":{"type":"line","color":"#111","strokeWidth":2.8,"clip":true,"invalid":"break-paths-show-domains"},"encoding":{"x":{"field":"d","type":"quantitative","axis":null},"y":{"field":"m","type":"quantitative","axis":null}}},
  {"data":{"values":[{}]},"mark":{"type":"text","text":"(a)","fontSize":26,"fontWeight":"bold","font":"Liberation Sans","align":"left","baseline":"alphabetic","color":"#111"},"encoding":{"x":{"datum":133.8,"type":"quantitative","axis":null},"y":{"datum":22.9,"type":"quantitative","axis":null}}}
 ],
 "resolve":{"axis":{"x":"independent","y":"independent"}}},
{"width":291,"height":218,"title":{"text":"USA"},
 "layer":[
  {"data":{"name":"bars"},"mark":{"type":"rect","color":"#d0d2d2"},"encoding":{"x":{"field":"s","type":"quantitative","scale":{"domain":[129.8,291.5],"nice":false,"zero":false},"axis":{"orient":"bottom","values":[150,175,200,225,250,275],"labels":false,"title":null}},"x2":{"field":"e"},"y":{"datum":27.55,"type":"quantitative","scale":{"domain":[-2,28],"nice":false,"zero":false},"axis":{"orient":"left","values":[0,5,10,15,20,25],"labels":false,"title":null}},"y2":{"datum":-1.63}}},
  {"data":{"values":[{}]},"mark":{"type":"rule","color":"#444","strokeDash":[1.5,5.5],"strokeWidth":1,"clip":true},"encoding":{"x":{"datum":155,"type":"quantitative","axis":null},"x2":{"datum":292},"y":{"datum":0,"type":"quantitative","axis":null}}},
  {"data":{"name":"Tb"},"mark":{"type":"line","color":"#9a9a9a","strokeWidth":1.8,"clip":true,"invalid":"break-paths-show-domains"},"encoding":{"x":{"field":"d","type":"quantitative","axis":null},"y":{"field":"l","type":"quantitative","axis":null}}},
  {"data":{"name":"Tb"},"mark":{"type":"line","color":"#9a9a9a","strokeWidth":1.8,"clip":true,"invalid":"break-paths-show-domains"},"encoding":{"x":{"field":"d","type":"quantitative","axis":{"orient":"top","values":[150,175,200,225,250,275],"labels":false,"title":null}},"y":{"field":"h","type":"quantitative","axis":{"orient":"right","values":[0,5,10,15,20,25],"labels":false,"title":null}}}},
  {"data":{"name":"Tb"},"mark":{"type":"line","color":"#111","strokeWidth":2.8,"clip":true,"invalid":"break-paths-show-domains"},"encoding":{"x":{"field":"d","type":"quantitative","axis":null},"y":{"field":"m","type":"quantitative","axis":null}}},
  {"data":{"values":[{}]},"mark":{"type":"text","text":"(b)","fontSize":26,"fontWeight":"bold","font":"Liberation Sans","align":"left","baseline":"alphabetic","color":"#111"},"encoding":{"x":{"datum":133.8,"type":"quantitative","axis":null},"y":{"datum":22.9,"type":"quantitative","axis":null}}}
 ],
 "resolve":{"axis":{"x":"independent","y":"independent"}}},
{"width":281,"height":218,"title":{"text":"ALP"},
 "layer":[
  {"data":{"name":"bars"},"mark":{"type":"rect","color":"#d0d2d2"},"encoding":{"x":{"field":"s","type":"quantitative","scale":{"domain":[129.8,285.9],"nice":false,"zero":false},"axis":{"orient":"bottom","values":[150,175,200,225,250,275],"labels":false,"title":null}},"x2":{"field":"e"},"y":{"datum":27.55,"type":"quantitative","scale":{"domain":[-2,28],"nice":false,"zero":false},"axis":{"orient":"left","values":[0,5,10,15,20,25],"labels":false,"title":null}},"y2":{"datum":-1.63}}},
  {"data":{"values":[{}]},"mark":{"type":"rule","color":"#444","strokeDash":[1.5,5.5],"strokeWidth":1,"clip":true},"encoding":{"x":{"datum":155,"type":"quantitative","axis":null},"x2":{"datum":292},"y":{"datum":0,"type":"quantitative","axis":null}}},
  {"data":{"name":"Tc"},"mark":{"type":"line","color":"#9a9a9a","strokeWidth":1.8,"clip":true,"invalid":"break-paths-show-domains"},"encoding":{"x":{"field":"d","type":"quantitative","axis":null},"y":{"field":"l","type":"quantitative","axis":null}}},
  {"data":{"name":"Tc"},"mark":{"type":"line","color":"#9a9a9a","strokeWidth":1.8,"clip":true,"invalid":"break-paths-show-domains"},"encoding":{"x":{"field":"d","type":"quantitative","axis":{"orient":"top","values":[150,175,200,225,250,275],"labels":false,"title":null}},"y":{"field":"h","type":"quantitative","axis":null}}},
  {"data":{"name":"Tc"},"mark":{"type":"line","color":"#111","strokeWidth":2.8,"clip":true,"invalid":"break-paths-show-domains"},"encoding":{"x":{"field":"d","type":"quantitative","axis":null},"y":{"field":"m","type":"quantitative","axis":null}}},
  {"data":{"values":[{}]},"mark":{"type":"text","text":"(c)","fontSize":26,"fontWeight":"bold","font":"Liberation Sans","align":"left","baseline":"alphabetic","color":"#111"},"encoding":{"x":{"datum":133.8,"type":"quantitative","axis":null},"y":{"datum":22.9,"type":"quantitative","axis":null}}}
 ],
 "resolve":{"axis":{"x":"independent","y":"independent"}}},
{"width":292,"height":220,
 "layer":[
  {"data":{"name":"bars"},"mark":{"type":"rect","color":"#d0d2d2"},"encoding":{"x":{"field":"s","type":"quantitative","scale":{"domain":[129.8,292],"nice":false,"zero":false},"axis":{"orient":"bottom","values":[150,175,200,225,250,275],"labels":false,"title":null}},"x2":{"field":"e"},"y":{"datum":2.93,"type":"quantitative","scale":{"domain":[-0.06,3],"nice":false,"zero":false},"axis":{"orient":"left","values":[0,0.5,1,1.5,2,2.5],"format":".0f","labelExpr":"datum.value % 1 === 0 ? datum.label : ''","title":"VPD, kPa","titleX":-45,"titleY":110,"titleAngle":270,"titleBaseline":"alphabetic","titleAlign":"center"}},"y2":{"datum":-0.04}}},
  {"data":{"name":"Va"},"mark":{"type":"line","color":"#9a9a9a","strokeWidth":1.8,"clip":true,"invalid":"break-paths-show-domains"},"encoding":{"x":{"field":"d","type":"quantitative","axis":null},"y":{"field":"l","type":"quantitative","axis":null}}},
  {"data":{"name":"Va"},"mark":{"type":"line","color":"#9a9a9a","strokeWidth":1.8,"clip":true,"invalid":"break-paths-show-domains"},"encoding":{"x":{"field":"d","type":"quantitative","axis":{"orient":"top","values":[150,175,200,225,250,275],"labels":false,"title":null}},"y":{"field":"h","type":"quantitative","axis":{"orient":"right","values":[0,0.5,1,1.5,2,2.5],"labels":false,"title":null}}}},
  {"data":{"name":"Va"},"mark":{"type":"line","color":"#111","strokeWidth":2.8,"clip":true,"invalid":"break-paths-show-domains"},"encoding":{"x":{"field":"d","type":"quantitative","axis":null},"y":{"field":"m","type":"quantitative","axis":null}}},
  {"data":{"values":[{}]},"mark":{"type":"text","text":"(d)","fontSize":26,"fontWeight":"bold","font":"Liberation Sans","align":"left","baseline":"alphabetic","color":"#111"},"encoding":{"x":{"datum":133.8,"type":"quantitative","axis":null},"y":{"datum":2.44,"type":"quantitative","axis":null}}}
 ],
 "resolve":{"axis":{"x":"independent","y":"independent"}}},
{"width":291,"height":220,
 "layer":[
  {"data":{"name":"bars"},"mark":{"type":"rect","color":"#d0d2d2"},"encoding":{"x":{"field":"s","type":"quantitative","scale":{"domain":[129.8,291.5],"nice":false,"zero":false},"axis":{"orient":"bottom","values":[150,175,200,225,250,275],"labels":false,"title":null}},"x2":{"field":"e"},"y":{"datum":2.93,"type":"quantitative","scale":{"domain":[-0.06,3],"nice":false,"zero":false},"axis":{"orient":"left","values":[0,0.5,1,1.5,2,2.5],"labels":false,"title":null}},"y2":{"datum":-0.04}}},
  {"data":{"name":"Vb"},"mark":{"type":"line","color":"#9a9a9a","strokeWidth":1.8,"clip":true,"invalid":"break-paths-show-domains"},"encoding":{"x":{"field":"d","type":"quantitative","axis":null},"y":{"field":"l","type":"quantitative","axis":null}}},
  {"data":{"name":"Vb"},"mark":{"type":"line","color":"#9a9a9a","strokeWidth":1.8,"clip":true,"invalid":"break-paths-show-domains"},"encoding":{"x":{"field":"d","type":"quantitative","axis":{"orient":"top","values":[150,175,200,225,250,275],"labels":false,"title":null}},"y":{"field":"h","type":"quantitative","axis":{"orient":"right","values":[0,0.5,1,1.5,2,2.5],"labels":false,"title":null}}}},
  {"data":{"name":"Vb"},"mark":{"type":"line","color":"#111","strokeWidth":2.8,"clip":true,"invalid":"break-paths-show-domains"},"encoding":{"x":{"field":"d","type":"quantitative","axis":null},"y":{"field":"m","type":"quantitative","axis":null}}},
  {"data":{"values":[{}]},"mark":{"type":"text","text":"(e)","fontSize":26,"fontWeight":"bold","font":"Liberation Sans","align":"left","baseline":"alphabetic","color":"#111"},"encoding":{"x":{"datum":133.8,"type":"quantitative","axis":null},"y":{"datum":2.44,"type":"quantitative","axis":null}}}
 ],
 "resolve":{"axis":{"x":"independent","y":"independent"}}},
{"width":281,"height":220,
 "layer":[
  {"data":{"name":"bars"},"mark":{"type":"rect","color":"#d0d2d2"},"encoding":{"x":{"field":"s","type":"quantitative","scale":{"domain":[129.8,285.9],"nice":false,"zero":false},"axis":{"orient":"bottom","values":[150,175,200,225,250,275],"labels":false,"title":null}},"x2":{"field":"e"},"y":{"datum":2.93,"type":"quantitative","scale":{"domain":[-0.06,3],"nice":false,"zero":false},"axis":{"orient":"left","values":[0,0.5,1,1.5,2,2.5],"labels":false,"title":null}},"y2":{"datum":-0.04}}},
  {"data":{"name":"Vc"},"mark":{"type":"line","color":"#9a9a9a","strokeWidth":1.8,"clip":true,"invalid":"break-paths-show-domains"},"encoding":{"x":{"field":"d","type":"quantitative","axis":null},"y":{"field":"l","type":"quantitative","axis":null}}},
  {"data":{"name":"Vc"},"mark":{"type":"line","color":"#9a9a9a","strokeWidth":1.8,"clip":true,"invalid":"break-paths-show-domains"},"encoding":{"x":{"field":"d","type":"quantitative","axis":{"orient":"top","values":[150,175,200,225,250,275],"labels":false,"title":null}},"y":{"field":"h","type":"quantitative","axis":null}}},
  {"data":{"name":"Vc"},"mark":{"type":"line","color":"#111","strokeWidth":2.8,"clip":true,"invalid":"break-paths-show-domains"},"encoding":{"x":{"field":"d","type":"quantitative","axis":null},"y":{"field":"m","type":"quantitative","axis":null}}},
  {"data":{"values":[{}]},"mark":{"type":"text","text":"(f)","fontSize":26,"fontWeight":"bold","font":"Liberation Sans","align":"left","baseline":"alphabetic","color":"#111"},"encoding":{"x":{"datum":133.8,"type":"quantitative","axis":null},"y":{"datum":2.44,"type":"quantitative","axis":null}}}
 ],
 "resolve":{"axis":{"x":"independent","y":"independent"}}},
{"width":292,"height":219,
 "layer":[
  {"data":{"name":"bars"},"mark":{"type":"rect","color":"#d0d2d2"},"encoding":{"x":{"field":"s","type":"quantitative","scale":{"domain":[129.8,292],"nice":false,"zero":false},"axis":{"orient":"bottom","values":[150,175,200,225,250,275],"labelExpr":"datum.value % 50 === 0 ? datum.label : ''","labelPadding":11,"title":null}},"x2":{"field":"e"},"y":{"datum":0.422,"type":"quantitative","scale":{"domain":[0.02,0.43],"nice":false,"zero":false},"axis":{"orient":"left","values":[0.05,0.1,0.15,0.2,0.25,0.3,0.35,0.4],"labelExpr":"(datum.value > 0.09 && datum.value < 0.31 && abs(datum.value*10 - round(datum.value*10)) < 0.001) ? format(datum.value, '.1f') : ''","title":"Θ, m³ m⁻³","titleX":-45,"titleY":109.5,"titleAngle":270,"titleBaseline":"alphabetic","titleAlign":"center"}},"y2":{"datum":0.0244}}},
  {"data":{"values":[{}]},"mark":{"type":"rule","color":"#aaaaaa","strokeWidth":1.5},"encoding":{"y":{"datum":0.16,"type":"quantitative","axis":null}}},
  {"data":{"values":[{}]},"mark":{"type":"rule","color":"#111","strokeWidth":1.5},"encoding":{"y":{"datum":0.08,"type":"quantitative","axis":null}}},
  {"data":{"name":"Sa"},"mark":{"type":"line","color":"#111","strokeWidth":3,"clip":true},"encoding":{"x":{"field":"d","type":"quantitative","axis":{"orient":"top","values":[150,175,200,225,250,275],"labels":false,"title":null}},"y":{"field":"v","type":"quantitative","axis":{"orient":"right","values":[0.05,0.1,0.15,0.2,0.25,0.3,0.35,0.4],"labels":false,"title":null}}}},
  {"data":{"values":[{}]},"mark":{"type":"text","text":"(g)","fontSize":26,"fontWeight":"bold","font":"Liberation Sans","align":"left","baseline":"alphabetic","color":"#111"},"encoding":{"x":{"datum":133.8,"type":"quantitative","axis":null},"y":{"datum":0.355,"type":"quantitative","axis":null}}}
 ],
 "resolve":{"axis":{"x":"independent","y":"independent"}}},
{"width":291,"height":219,
 "layer":[
  {"data":{"name":"bars"},"mark":{"type":"rect","color":"#d0d2d2"},"encoding":{"x":{"field":"s","type":"quantitative","scale":{"domain":[129.8,291.5],"nice":false,"zero":false},"axis":{"orient":"bottom","values":[150,175,200,225,250,275],"labelExpr":"datum.value % 50 === 0 ? datum.label : ''","labelPadding":11,"title":"Day of year, 2010","titlePadding":10}},"x2":{"field":"e"},"y":{"datum":0.422,"type":"quantitative","scale":{"domain":[0.02,0.43],"nice":false,"zero":false},"axis":{"orient":"left","values":[0.05,0.1,0.15,0.2,0.25,0.3,0.35,0.4],"labels":false,"title":null}},"y2":{"datum":0.0244}}},
  {"data":{"values":[{}]},"mark":{"type":"rule","color":"#aaaaaa","strokeWidth":1.5},"encoding":{"y":{"datum":0.16,"type":"quantitative","axis":null}}},
  {"data":{"values":[{}]},"mark":{"type":"rule","color":"#111","strokeWidth":1.5},"encoding":{"y":{"datum":0.08,"type":"quantitative","axis":null}}},
  {"data":{"name":"Sb"},"mark":{"type":"line","color":"#111","strokeWidth":3,"clip":true},"encoding":{"x":{"field":"d","type":"quantitative","axis":{"orient":"top","values":[150,175,200,225,250,275],"labels":false,"title":null}},"y":{"field":"v","type":"quantitative","axis":{"orient":"right","values":[0.05,0.1,0.15,0.2,0.25,0.3,0.35,0.4],"labels":false,"title":null}}}},
  {"data":{"values":[{}]},"mark":{"type":"text","text":"(h)","fontSize":26,"fontWeight":"bold","font":"Liberation Sans","align":"left","baseline":"alphabetic","color":"#111"},"encoding":{"x":{"datum":133.8,"type":"quantitative","axis":null},"y":{"datum":0.355,"type":"quantitative","axis":null}}}
 ],
 "resolve":{"axis":{"x":"independent","y":"independent"}}},
{"width":281,"height":219,
 "layer":[
  {"data":{"name":"bars"},"mark":{"type":"rect","color":"#d0d2d2"},"encoding":{"x":{"field":"s","type":"quantitative","scale":{"domain":[129.8,285.9],"nice":false,"zero":false},"axis":{"orient":"bottom","values":[150,175,200,225,250,275],"labelExpr":"datum.value % 50 === 0 ? datum.label : ''","labelPadding":11,"title":null}},"x2":{"field":"e"},"y":{"datum":0.422,"type":"quantitative","scale":{"domain":[0.02,0.43],"nice":false,"zero":false},"axis":{"orient":"left","values":[0.05,0.1,0.15,0.2,0.25,0.3,0.35,0.4],"labels":false,"title":null}},"y2":{"datum":0.0244}}},
  {"data":{"values":[{}]},"mark":{"type":"rule","color":"#aaaaaa","strokeWidth":1.5},"encoding":{"y":{"datum":0.16,"type":"quantitative","axis":null}}},
  {"data":{"values":[{}]},"mark":{"type":"rule","color":"#111","strokeWidth":1.5},"encoding":{"y":{"datum":0.08,"type":"quantitative","axis":null}}},
  {"data":{"name":"Sc"},"mark":{"type":"line","color":"#111","strokeWidth":3,"clip":true},"encoding":{"x":{"field":"d","type":"quantitative","axis":{"orient":"top","values":[150,175,200,225,250,275],"labels":false,"title":null}},"y":{"field":"v","type":"quantitative","axis":null}}},
  {"data":{"values":[{}]},"mark":{"type":"text","text":"(i)","fontSize":26,"fontWeight":"bold","font":"Liberation Sans","align":"left","baseline":"alphabetic","color":"#111"},"encoding":{"x":{"datum":133.8,"type":"quantitative","axis":null},"y":{"datum":0.355,"type":"quantitative","axis":null}}}
 ],
 "resolve":{"axis":{"x":"independent","y":"independent"}}}
],
"config":{
 "font":"Liberation Sans",
 "view":{"stroke":null},
 "axis":{"domainColor":"#111","domainWidth":1.2,"tickColor":"#111","tickSize":-5,"tickWidth":1,"labelFont":"Liberation Sans","labelFontSize":18,"labelColor":"#222","labelPadding":12,"labelOverlap":false,"titleFont":"Liberation Sans","titleFontSize":24,"titleFontWeight":"normal","titleColor":"#222","grid":false,"zindex":1},
 "title":{"font":"Liberation Sans","fontSize":24,"fontWeight":"normal","color":"#222","offset":2}
}
}
